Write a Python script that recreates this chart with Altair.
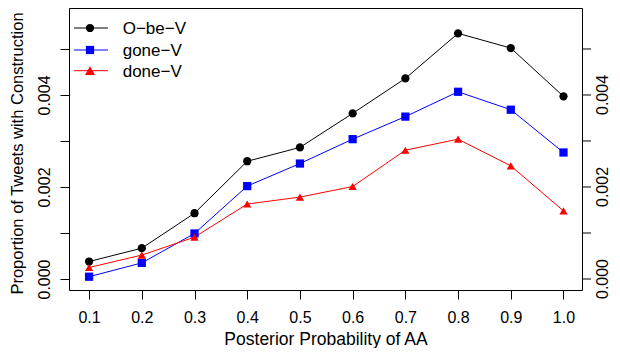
import altair as alt
import pandas as pd

# ---- data ----
x_vals = [0.1, 0.2, 0.3, 0.4, 0.5, 0.6, 0.7, 0.8, 0.9, 1.0]
series_names = ["O−be−V", "gone−V", "done−V"]
series_colors = ["#000000", "#0000ff", "#ff0000"]
series_shapes = ["circle", "square", "triangle-up"]
series_sizes = [68, 68, 100]

obe_v = [0.00038, 0.00067, 0.00143, 0.00256, 0.00286, 0.00360, 0.00436, 0.00534, 0.00502, 0.00397]
gone_v = [0.00005, 0.00035, 0.00099, 0.00202, 0.00251, 0.00304, 0.00353, 0.00407, 0.00368, 0.00275]
done_v = [0.00025, 0.00052, 0.00091, 0.00163, 0.00178, 0.00201, 0.00280, 0.00304, 0.00246, 0.00148]

y_ticks = [0.0, 0.001, 0.002, 0.003, 0.004, 0.005]
y_tick_labels = ["0.000", "", "0.002", "", "0.004", ""]

x_title = "Posterior Probability of AA"
y_title = "Proportion of Tweets with Construction"

# ---- tables ----
rows = []
for name, vals in zip(series_names, [obe_v, gone_v, done_v]):
    for xv, yv in zip(x_vals, vals):
        rows.append({"px": xv, "py": yv, "series": name})
df = pd.DataFrame(rows)
ticks_df = pd.DataFrame({"tv": y_ticks, "tl": y_tick_labels})

legend_rows_px = [20, 42, 62.7]  # layout positions of legend rows

FONT = "Liberation Sans"
W, H = 513, 282

xscale = alt.Scale(domain=[0.0619, 1.0351], nice=False, zero=False)
yscale = alt.Scale(domain=[-0.000239, 0.005891], nice=False, zero=False)
color_scale = alt.Scale(domain=series_names, range=series_colors)
shape_scale = alt.Scale(domain=series_names, range=series_shapes)
size_scale = alt.Scale(domain=series_names, range=series_sizes)

label_expr = "round(datum.value*1000) % 2 == 0 ? format(datum.value, '.3f') : ''"

x_axis = alt.Axis(
    values=x_vals, format=".1f", title=x_title, grid=False, domain=False,
    tickSize=9, tickColor="black", tickWidth=1,
    labelFont=FONT, labelFontSize=16, labelColor="black", labelPadding=10,
    labelFlush=False, labelOverlap=False,
    titleFont=FONT, titleFontSize=17.5, titleFontWeight="normal",
    titleColor="black", titleX=W / 2, titleY=54, titleAlign="center",
    titleBaseline="alphabetic",
)

y_axis_left = alt.Axis(
    values=y_ticks, labelExpr=label_expr, orient="left", grid=False, domain=False,
    tickSize=9, tickColor="black", tickWidth=1,
    labelFont=FONT, labelFontSize=16, labelColor="black", labelAngle=270,
    labelAlign="center", labelBaseline="alphabetic", labelPadding=11,
    labelFlush=False, labelOverlap=False, labelBound=False,
    title=y_title, titleFont=FONT, titleFontSize=16.5, titleFontWeight="normal",
    titleColor="black", titleAngle=270, titleX=-47, titleY=145,
    titleAlign="center", titleBaseline="alphabetic",
)

base = alt.Chart(df)

lines = base.mark_line(strokeWidth=1).encode(
    x=alt.X("px:Q", scale=xscale, axis=x_axis),
    y=alt.Y("py:Q", scale=yscale, axis=y_axis_left),
    color=alt.Color("series:N", scale=color_scale, legend=None),
    detail="series:N",
)

points = base.mark_point(filled=True, opacity=1).encode(
    x=alt.X("px:Q", scale=xscale),
    y=alt.Y("py:Q", scale=yscale),
    color=alt.Color("series:N", scale=color_scale, legend=None),
    shape=alt.Shape("series:N", scale=shape_scale, legend=None),
    size=alt.Size("series:N", scale=size_scale, legend=None),
)

# right-hand axis (mirror of the left one), drawn with marks on the shared y scale
tk = alt.Chart(ticks_df)
right_ticks = tk.mark_rule(color="black", strokeWidth=1).encode(
    y=alt.Y("tv:Q", scale=yscale),
    x=alt.value(W), x2=alt.value(W + 9),
)
right_labels = tk.mark_text(angle=270, align="center", baseline="alphabetic",
                            font=FONT, fontSize=16, color="black").encode(
    y=alt.Y("tv:Q", scale=yscale),
    x=alt.value(W + 26),
    text="tl:N",
)

# legend: one small group of marks per series, placed in pixels
legend_layers = []
one_row = pd.DataFrame({"k": [0]})
for name, col, shp, sz, ly in zip(series_names, series_colors, series_shapes,
                                  series_sizes, legend_rows_px):
    leg = alt.Chart(one_row)
    legend_layers.append(
        leg.mark_rule(strokeWidth=1, color=col).encode(
            x=alt.value(5), x2=alt.value(39), y=alt.value(ly))
    )
    legend_layers.append(
        leg.mark_point(filled=True, opacity=1, color=col, shape=shp, size=sz).encode(
            x=alt.value(21), y=alt.value(ly))
    )
    legend_layers.append(
        leg.mark_text(align="left", baseline="alphabetic", dy=6, fontSize=17,
                      font=FONT, color="black", text=name).encode(
            x=alt.value(53.7), y=alt.value(ly))
    )

chart = (
    alt.layer(lines, points, right_ticks, right_labels, *legend_layers)
    .properties(width=W, height=H, padding=0, background="white")
    .configure_view(stroke="black", strokeWidth=1)
)

chart.save("out.html", embed_options={"renderer": "svg", "actions": False})
